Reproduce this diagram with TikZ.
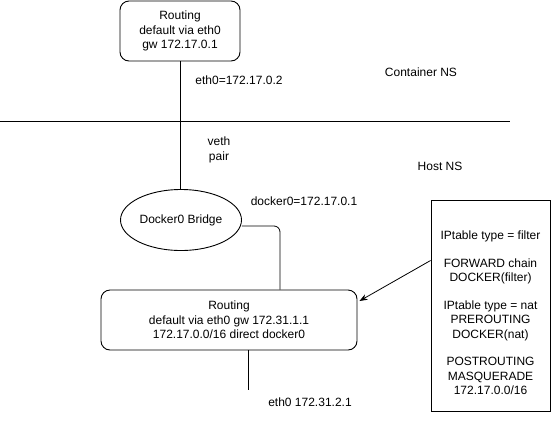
\documentclass[tikz,border=0pt]{standalone}
\usepackage{fontspec}
\setmainfont{Liberation Sans}
\usetikzlibrary{shapes.geometric,arrows.meta}
\begin{document}
\begin{tikzpicture}[x=1pt,y=-1pt,
  font=\fontsize{12}{14.5}\selectfont,
  box/.style={draw, rounded corners=9pt, line width=0.9pt, align=center, inner sep=0pt},
  lbl/.style={inner sep=0pt, align=center},
  link/.style={draw, line width=0.8pt}]
\useasboundingbox[fill=white] (0,0) rectangle (551,421);
% nodes
\node[box, minimum width=120pt, minimum height=60pt] (top) at (180,31) {Routing\\default via eth0\\gw 172.17.0.1};
\node[draw, ellipse, line width=0.9pt, minimum width=121pt, minimum height=61pt, inner sep=0pt] (bridge) at (181,220) {Docker0 Bridge};
\node[box, minimum width=256pt, minimum height=60pt] (bot) at (229,320) {Routing\\default via eth0 gw 172.31.1.1\\172.17.0.0/16 direct docker0};
\node[draw, line width=0.9pt, minimum width=119pt, minimum height=211pt, inner sep=0pt] (ipt) at (490.5,305.5) {};
\node[lbl] (ipttext) at (490.5,313) {IPtable type = filter\\[13pt]FORWARD chain\\DOCKER(filter)\\[13pt]IPtable type = nat\\PREROUTING\\DOCKER(nat)\\[13pt]POSTROUTING\\MASQUERADE\\172.17.0.0/16};
% labels
\node[lbl] (eth0c) at (239,80) {eth0=172.17.0.2};
\node[lbl] (cns) at (421,72) {Container NS};
\node[lbl] (veth) at (219,150) {veth\\pair};
\node[lbl] (hns) at (440,166) {Host NS};
\node[lbl] (dk0) at (304,201) {docker0=172.17.0.1};
\node[lbl] (eth0h) at (310,402) {eth0 172.31.2.1};
% separator
\coordinate (sepL) at (0,121);
\coordinate (sepR) at (510,121);
\draw[line width=0.9pt] (sepL) -- (sepR);
% connectors
\draw[link] (top.south) -- (top.south |- bridge.north);
\draw[link, rounded corners=6pt] ([yshift=-6pt]bridge.east) -| ([xshift=51pt]bot.north);
\coordinate (e0end) at (248,390);
\draw[link] (bot.south -| e0end) -- (e0end);
\draw[link, -{Stealth[length=8pt,width=6pt]}] ([yshift=45pt]ipt.west) -- ([xshift=2pt,yshift=19pt]bot.east);
\end{tikzpicture}
\end{document}
